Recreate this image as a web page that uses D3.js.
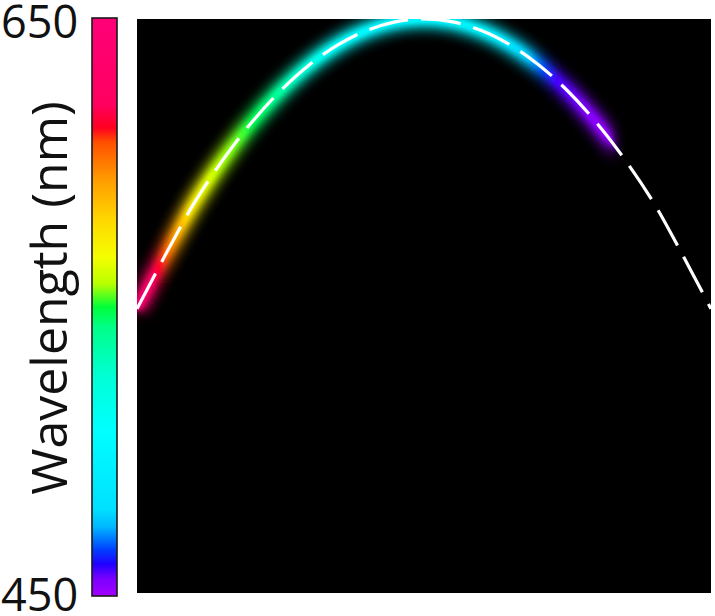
<!DOCTYPE html>
<html>
<head>
<meta charset="utf-8">
<script src="https://cdn.jsdelivr.net/npm/d3@7"></script>
<style>
  html, body { margin: 0; padding: 0; background: #fff; }
  svg { display: block; }
</style>
</head>
<body>
<div id="chart"></div>
<script>
// ---- data ----
const xValues = [0, 5, 10, 15, 20, 25, 30, 35, 40, 45, 50, 55, 60, 65, 70, 75, 80, 85, 90, 95, 100];
const wavelengths = [549, 568, 586, 601, 614, 625, 634, 641, 646, 649, 650, 649, 646, 641, 634, 625, 614, 601, 586, 568, 549];

// glow colour along the curve (given as emission wavelength at x)
const glowX = [0, 2.6, 4, 5.2, 7.1, 9.2, 12.7, 17, 20, 24, 28.4, 33.6, 40, 50, 60, 64, 68, 71, 73, 78, 82, 83.5];
const glowWl = [650, 628, 612, 602, 590, 576, 563, 555, 548, 540, 525, 510, 502, 500, 498, 490, 478, 466, 459, 455, 452, 452];

// colour bar stops
const cbWavelengths = [650, 620, 612, 607, 594, 580, 567, 558, 550, 543, 525, 507, 480, 474, 466, 461, 456, 450];
const cbColors = ["#ff0078", "#ff0060", "#ff0020", "#ff5000", "#ff9c00", "#ffd800", "#f4ff00", "#b8ff00", "#00ff38", "#00ff88", "#00ffd8", "#00ffff", "#00e0ff", "#00b8ff", "#0040ff", "#2000ff", "#7a00ff", "#a400ff"];
const tickLabels = ["650", "450"];
const axisTitle = "Wavelength (nm)";

// ---- layout ----
const W = 715, H = 616;
const plot = { left: 137, right: 711, top: 19, bottom: 593 };
const cb = { left: 92, right: 117, top: 18, bottom: 596 };

const svg = d3.select("#chart").append("svg").attr("width", W).attr("height", H);
const defs = svg.append("defs");

const x = d3.scaleLinear().domain([0, 100]).range([plot.left, plot.right]);
const y = d3.scaleLinear().domain([450, 650]).range([plot.bottom, plot.top]);
const yCb = d3.scaleLinear().domain([450, 650]).range([cb.bottom, cb.top]);
const colorOf = d3.scaleLinear().domain(cbWavelengths).range(cbColors).clamp(true);

// colour bar gradient
const cbGrad = defs.append("linearGradient").attr("id", "cbGrad")
  .attr("gradientUnits", "userSpaceOnUse")
  .attr("x1", 0).attr("x2", 0).attr("y1", cb.top).attr("y2", cb.bottom);
cbWavelengths.forEach((w, i) => {
  cbGrad.append("stop")
    .attr("offset", (yCb(w) - cb.top) / (cb.bottom - cb.top))
    .attr("stop-color", cbColors[i]);
});

svg.append("rect")
  .attr("x", cb.left).attr("y", cb.top)
  .attr("width", cb.right - cb.left).attr("height", cb.bottom - cb.top)
  .attr("fill", "url(#cbGrad)")
  .attr("stroke", "#1a1a1a").attr("stroke-width", 1.6);

// labels
const font = "'Open Sans', sans-serif";
svg.append("text").attr("x", 1).attr("y", 38)
  .attr("font-family", font).attr("font-size", 45).attr("fill", "#111")
  .text(tickLabels[0]);
svg.append("text").attr("x", 1).attr("y", 611)
  .attr("font-family", font).attr("font-size", 45).attr("fill", "#111")
  .text(tickLabels[1]);
svg.append("text")
  .attr("transform", `translate(67, 298) rotate(-90)`)
  .attr("text-anchor", "middle")
  .attr("font-family", font).attr("font-size", 50).attr("fill", "#111")
  .text(axisTitle);

// plot area
svg.append("rect")
  .attr("x", plot.left).attr("y", plot.top)
  .attr("width", plot.right - plot.left).attr("height", plot.bottom - plot.top)
  .attr("fill", "#000");

defs.append("clipPath").attr("id", "plotClip")
  .append("rect")
  .attr("x", plot.left).attr("y", plot.top)
  .attr("width", plot.right - plot.left).attr("height", plot.bottom - plot.top);

// glow gradient along x
const gGrad = defs.append("linearGradient").attr("id", "glowGrad")
  .attr("gradientUnits", "userSpaceOnUse")
  .attr("x1", x(0)).attr("x2", x(100)).attr("y1", 0).attr("y2", 0);
glowX.forEach((gx, i) => {
  gGrad.append("stop")
    .attr("offset", gx / 100)
    .attr("stop-color", colorOf(glowWl[i]))
    .attr("stop-opacity", i === glowX.length - 1 ? 0 : 1);
});
gGrad.append("stop").attr("offset", 1).attr("stop-color", "#000").attr("stop-opacity", 0);

function blur(id, sd) {
  defs.append("filter").attr("id", id)
    .attr("filterUnits", "userSpaceOnUse")
    .attr("x", 0).attr("y", -60).attr("width", W).attr("height", H + 120)
    .append("feGaussianBlur").attr("stdDeviation", sd);
}
blur("blurWide", 6.5);
blur("blurMid", 3);
blur("blurNarrow", 1.4);

const pts = xValues.map((v, i) => ({ x: v, w: wavelengths[i] }));
const line = d3.line().x(d => x(d.x)).y(d => y(d.w)).curve(d3.curveCatmullRom);

const g = svg.append("g").attr("clip-path", "url(#plotClip)");

g.append("path").attr("d", line(pts))
  .attr("fill", "none").attr("stroke", "url(#glowGrad)")
  .attr("stroke-width", 18).attr("opacity", 0.9)
  .attr("filter", "url(#blurWide)");
g.append("path").attr("d", line(pts))
  .attr("fill", "none").attr("stroke", "url(#glowGrad)")
  .attr("stroke-width", 9).attr("opacity", 0.9)
  .attr("filter", "url(#blurMid)");
g.append("path").attr("d", line(pts))
  .attr("fill", "none").attr("stroke", "url(#glowGrad)")
  .attr("stroke-width", 5)
  .attr("filter", "url(#blurNarrow)");

g.append("path").attr("d", line(pts))
  .attr("fill", "none").attr("stroke", "#fff")
  .attr("stroke-width", 3.2)
  .attr("stroke-dasharray", "40,13");
</script>
</body>
</html>
